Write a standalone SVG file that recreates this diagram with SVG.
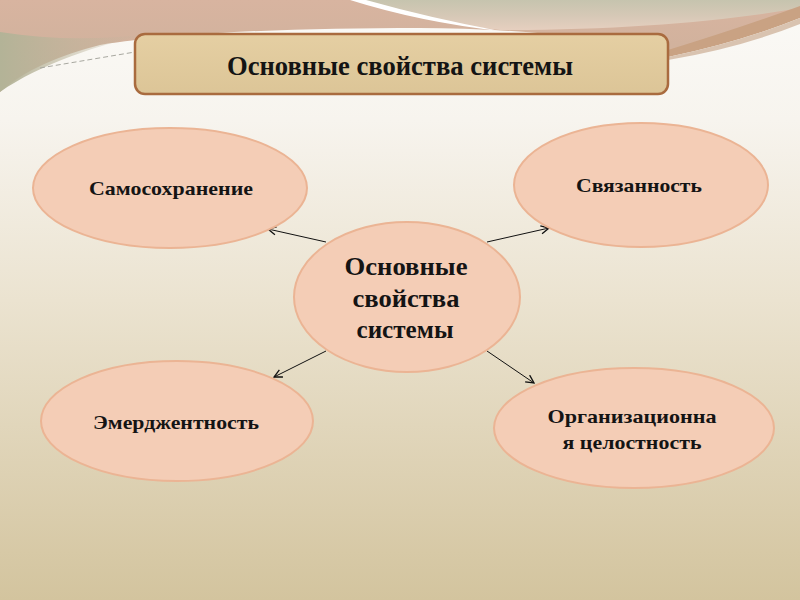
<svg xmlns="http://www.w3.org/2000/svg" width="800" height="600" viewBox="0 0 800 600">
  <defs>
    <linearGradient id="bg" x1="0" y1="0" x2="0" y2="1">
      <stop offset="0" stop-color="#fbfaf7"/>
      <stop offset="0.2" stop-color="#f7f4ee"/>
      <stop offset="0.5" stop-color="#ebe3d0"/>
      <stop offset="1" stop-color="#d3c49e"/>
    </linearGradient>
    <linearGradient id="topPink" x1="0" y1="0" x2="0" y2="1">
      <stop offset="0" stop-color="#d8b4a0"/>
      <stop offset="1" stop-color="#cbb09a"/>
    </linearGradient>
    <linearGradient id="topGrey" x1="0" y1="0" x2="0" y2="1">
      <stop offset="0" stop-color="#c6c4ae"/>
      <stop offset="0.5" stop-color="#d5c8b6"/>
      <stop offset="1" stop-color="#e6cfbf"/>
    </linearGradient>
    <linearGradient id="leftGreen" x1="0" y1="0" x2="1" y2="0">
      <stop offset="0" stop-color="#b3b397"/>
      <stop offset="1" stop-color="#c3b59e" stop-opacity="0"/>
    </linearGradient>
    <linearGradient id="titleFill" x1="0" y1="0" x2="0" y2="1">
      <stop offset="0" stop-color="#e5cfa3"/>
      <stop offset="1" stop-color="#dcc597"/>
    </linearGradient>
    <marker id="arrow" viewBox="0 0 10 10" refX="9" refY="5" markerWidth="10" markerHeight="10" markerUnits="userSpaceOnUse" orient="auto">
      <path d="M1,1 L9,5 L1,9" fill="none" stroke="#111" stroke-width="1.3"/>
    </marker>
    <style>
      .node ellipse { fill: #f4cdb6; stroke: #ebb494; stroke-width: 2; }
      .lbl { font-family: "Liberation Serif", "Times New Roman", serif; font-weight: bold; fill: #141414; text-anchor: middle; }
      .small { font-size: 19px; }
      .big { font-size: 26px; }
      .conn line { stroke: #111; stroke-width: 1; marker-end: url(#arrow); }
    </style>
  </defs>

  <!-- background -->
  <rect x="0" y="0" width="800" height="600" fill="url(#bg)"/>

  <!-- top decoration -->
  <path d="M0,0 H800 V12 Q740,36 668,52 C600,36 500,28 420,28 C300,28 180,32 100,45 C60,55 25,70 0,92 Z" fill="url(#topPink)"/>
  <path d="M0,32 C50,40 100,40 150,34 C100,44 40,64 0,92 Z" fill="url(#leftGreen)"/>
  <path d="M362,0 H800 V8 C720,22 620,30 500,30 C440,24 395,12 362,0 Z" fill="url(#topGrey)"/>
  <path d="M350,0 H366 Q430,18 500,31 Q420,22 350,0 Z" fill="#ffffff"/>
  <path d="M668,50 Q740,28 800,6 V18 Q740,42 668,57 Z" fill="#c9a283"/>
  <path d="M668,57 Q740,42 800,18 V24 Q740,48 668,60 Z" fill="#d9c3b0"/>
  <path d="M40,68 L135,52" fill="none" stroke="#a8a8a0" stroke-width="1" stroke-dasharray="5,3"/>

  <!-- title -->
  <g id="title">
    <rect x="135" y="34" width="533" height="60" rx="10" ry="10" fill="url(#titleFill)" stroke="#a96b3f" stroke-width="2.5"/>
    <text class="lbl" x="400" y="75" font-size="27" textLength="346" lengthAdjust="spacingAndGlyphs">Основные свойства системы</text>
  </g>

  <!-- connectors -->
  <g id="connectors" class="conn">
    <line x1="326" y1="242" x2="268" y2="229"/>
    <line x1="487" y1="242" x2="549" y2="228"/>
    <line x1="326" y1="351" x2="274" y2="377"/>
    <line x1="487" y1="351" x2="534" y2="383"/>
  </g>

  <!-- nodes -->
  <g id="node-center" class="node">
    <ellipse cx="407" cy="297" rx="113" ry="75"/>
    <text class="lbl big" x="406" y="275" textLength="123" lengthAdjust="spacingAndGlyphs">Основные</text>
    <text class="lbl big" x="406" y="307" textLength="107" lengthAdjust="spacingAndGlyphs">свойства</text>
    <text class="lbl big" x="405" y="338" textLength="97" lengthAdjust="spacingAndGlyphs">системы</text>
  </g>

  <g id="node-samosohranenie" class="node">
    <ellipse cx="170" cy="188" rx="137" ry="60"/>
    <text class="lbl small" x="171" y="195" textLength="164" lengthAdjust="spacingAndGlyphs">Самосохранение</text>
  </g>

  <g id="node-svyazannost" class="node">
    <ellipse cx="641" cy="185" rx="127" ry="62"/>
    <text class="lbl small" x="639" y="192" textLength="126" lengthAdjust="spacingAndGlyphs">Связанность</text>
  </g>

  <g id="node-emerdzhentnost" class="node">
    <ellipse cx="177" cy="421" rx="136" ry="60"/>
    <text class="lbl small" x="176" y="429" textLength="166" lengthAdjust="spacingAndGlyphs">Эмерджентность</text>
  </g>

  <g id="node-organizatsionnaya" class="node">
    <ellipse cx="634" cy="428" rx="140" ry="60"/>
    <text class="lbl small" x="632" y="423" textLength="169" lengthAdjust="spacingAndGlyphs">Организационна</text>
    <text class="lbl small" x="632" y="449" textLength="139" lengthAdjust="spacingAndGlyphs">я целостность</text>
  </g>
</svg>
